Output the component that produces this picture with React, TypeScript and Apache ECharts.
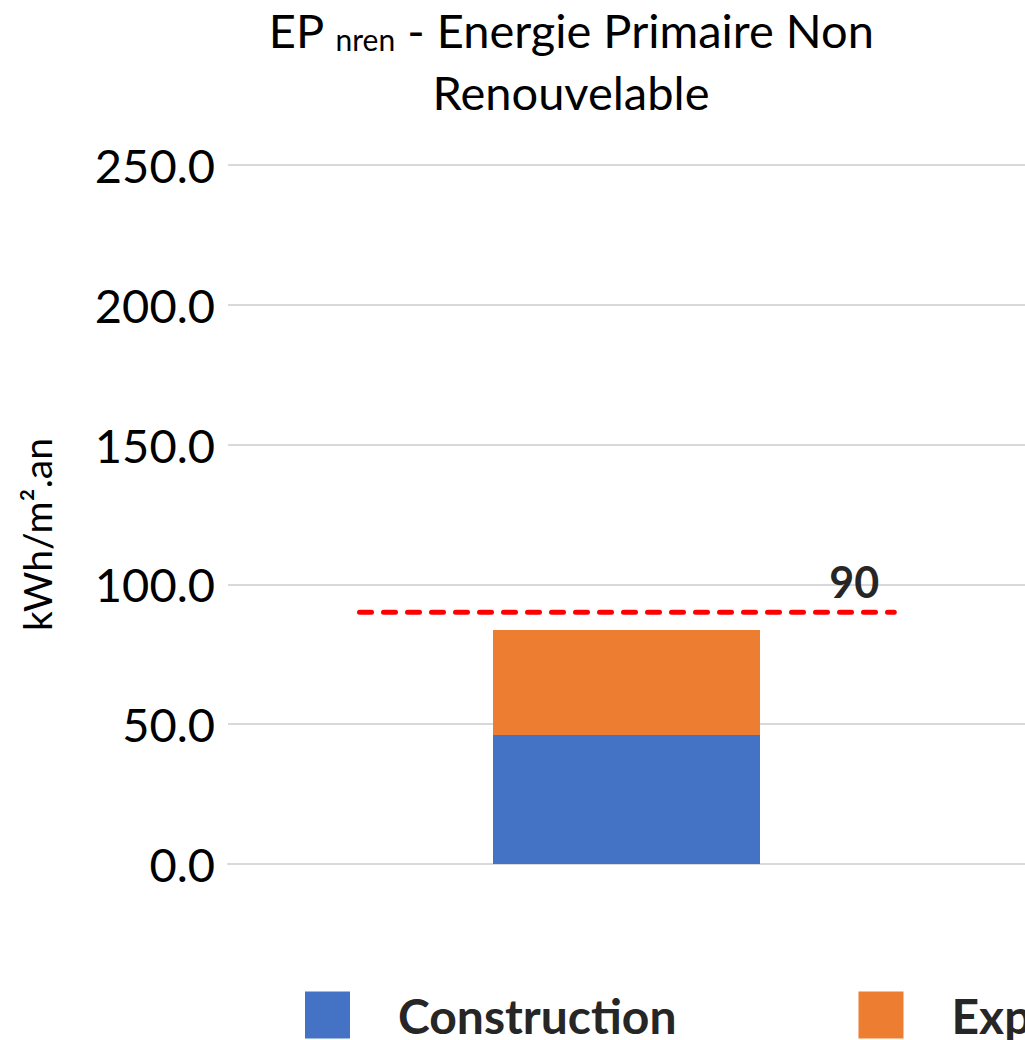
import React, { useEffect, useRef } from "react";
import * as echarts from "echarts";

// Stacked primary-energy bar with its regulatory limit
const categories = ["Bâtiment"];
const seriesNames = ["Construction", "Exploitation"];
const constructionValues = [46.1];
const exploitationValues = [37.6];
const limitValue = 90;
const limitX = [0.165, 0.836];
const yTicks = { min: 0, max: 250, interval: 50 };

const FONT = "Lato, 'Open Sans', sans-serif";

export default function App() {
  const ref = useRef<HTMLDivElement>(null);

  useEffect(() => {
    document.body.style.margin = "0";
    const chart = echarts.init(ref.current!, null, { renderer: "svg" });
    const limitData = limitX.map((x, i) =>
      i === limitX.length - 1
        ? {
            value: [x, limitValue],
            label: {
              show: true,
              position: "top",
              offset: [-40, -4],
              formatter: String(limitValue),
              fontFamily: FONT,
              fontWeight: "bold",
              fontSize: 43,
              color: "#262626",
            },
          }
        : { value: [x, limitValue] }
    );

    chart.setOption({
      animation: false,
      backgroundColor: "#ffffff",
      title: {
        left: 566,
        top: -6,
        textAlign: "center",
        text: "{a|EP }{sub|nren}{a| - Energie Primaire Non}\n{a|Renouvelable}",
        textStyle: {
          fontWeight: "normal",
          rich: {
            a: {
              fontFamily: FONT,
              fontSize: 47,
              fontWeight: "normal",
              color: "#000000",
              lineHeight: 62,
            },
            sub: {
              fontFamily: FONT,
              fontSize: 30,
              fontWeight: "normal",
              color: "#000000",
              verticalAlign: "bottom",
              padding: [0, 0, 7, 0],
            },
          },
        },
      },
      legend: {
        left: 300,
        top: 986,
        width: 2000,
        itemWidth: 45,
        itemHeight: 47,
        itemGap: 182,
        icon: "rect",
        data: seriesNames,
        textStyle: {
          fontFamily: FONT,
          fontSize: 48,
          fontWeight: "bold",
          color: "#262626",
          lineHeight: 40,
          padding: [0, 0, 0, 43],
        },
      },
      grid: { left: 228, width: 801, top: 165, bottom: 176 },
      xAxis: [
        {
          type: "category",
          data: categories,
          axisLine: { lineStyle: { color: "#d9d9d9", width: 2 } },
          axisTick: { show: false },
          axisLabel: { show: false },
        },
        { type: "value", min: 0, max: 1, show: false },
      ],
      yAxis: {
        type: "value",
        min: yTicks.min,
        max: yTicks.max,
        interval: yTicks.interval,
        name: "kWh/m².an",
        nameLocation: "middle",
        nameGap: 172,
        nameRotate: 90,
        nameTextStyle: {
          fontFamily: FONT,
          fontSize: 39,
          color: "#000000",
          padding: [0, 40, 0, 0],
        },
        axisLine: { show: false },
        axisTick: { show: false },
        axisLabel: {
          margin: 13,
          fontFamily: FONT,
          fontSize: 47,
          color: "#000000",
          formatter: (v: number) => v.toFixed(1),
        },
        splitLine: { lineStyle: { color: "#d9d9d9", width: 2 } },
      },
      series: [
        {
          name: seriesNames[0],
          type: "bar",
          stack: "total",
          barWidth: 267,
          data: constructionValues,
          itemStyle: { color: "#4472C4" },
        },
        {
          name: seriesNames[1],
          type: "bar",
          stack: "total",
          barWidth: 267,
          data: exploitationValues,
          itemStyle: { color: "#ED7D31" },
        },
        {
          name: "Seuil",
          type: "line",
          xAxisIndex: 1,
          symbol: "circle",
          symbolSize: 0,
          data: limitData,
          lineStyle: { color: "#FF0000", width: 5, type: [12, 12], cap: "round" },
          z: 5,
        },
      ],
    });
    return () => chart.dispose();
  }, []);

  return <div ref={ref} style={{ width: 1025, height: 1040 }} />;
}
